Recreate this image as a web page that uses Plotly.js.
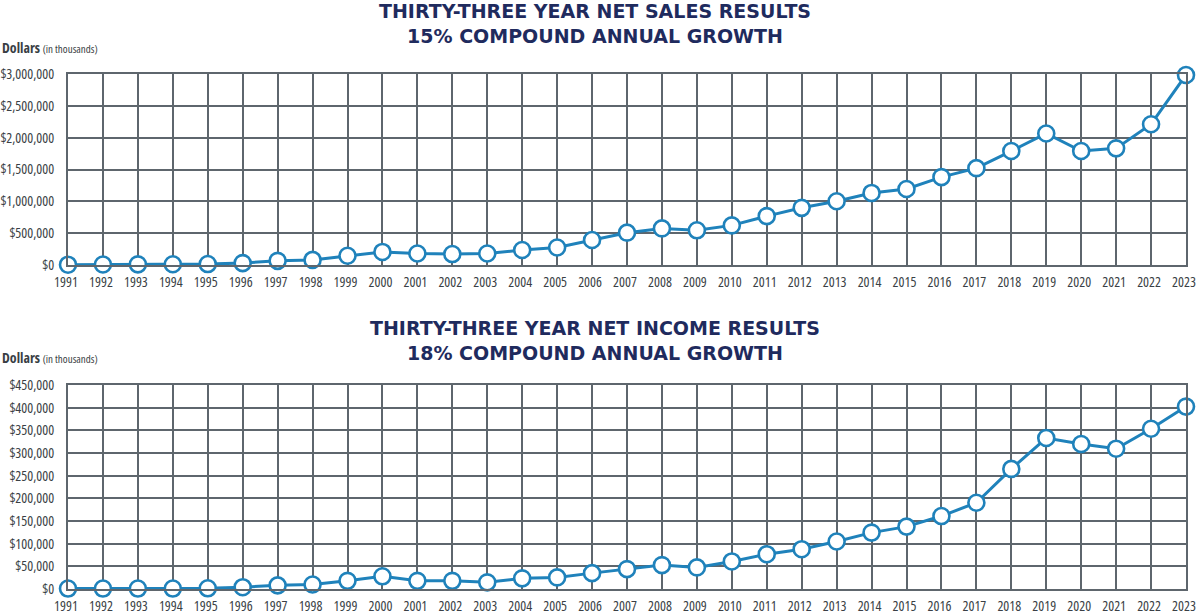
<!DOCTYPE html>
<html>
<head>
<meta charset="utf-8">
<script src="https://cdn.plot.ly/plotly-3.0.1.min.js"></script>
<style>
  html, body { margin: 0; padding: 0; background: #ffffff; }
  #chart { width: 1196px; height: 616px; }
  #chart .xtick text, #chart .ytick text,
  #chart .x2tick text, #chart .y2tick text,
  #chart .annotation.unit text { font-stretch: 75%; }
</style>
</head>
<body>
<div id="chart"></div>
<script>
// Years (categories)
const years = [1991,1992,1993,1994,1995,1996,1997,1998,1999,2000,2001,2002,2003,2004,2005,2006,2007,2008,2009,2010,2011,2012,2013,2014,2015,2016,2017,2018,2019,2020,2021,2022,2023];

// Net sales, dollars in thousands
const netSales = [5000,8000,10000,12000,15000,30000,65000,80000,145000,205000,180000,172000,180000,235000,275000,392000,508000,575000,545000,622000,768000,898000,1001000,1132000,1194000,1381000,1521000,1790000,2066000,1790000,1832000,2211000,2985000];

// Net income, dollars in thousands
const netIncome = [1000,1000,1000,1000,1500,4000,8000,10000,18000,28000,18000,18000,14700,23500,25600,35000,43900,52700,47600,60800,76800,87800,104700,124400,137600,160900,190300,264900,333000,319800,309500,353400,402400];

// Titles and labels
const salesTitle = "THIRTY-THREE YEAR NET SALES RESULTS<br>15% COMPOUND ANNUAL GROWTH";
const incomeTitle = "THIRTY-THREE YEAR NET INCOME RESULTS<br>18% COMPOUND ANNUAL GROWTH";
const unitLabel = "<b>Dollars</b> <span style='font-size:11px'>(in thousands)</span>";

const blue = "#1f82bb";
const gridCol = "#5e666d";
const narrowFam = "Open Sans, Roboto, Noto Sans, Liberation Sans, sans-serif";
const tickFont = { family: narrowFam, size: 14, color: "#3a3f45" };
const titleFont = { family: "DejaVu Sans, Liberation Sans, sans-serif", size: 19, color: "#1f2b5e", weight: 900 };

function seriesTrace(y, xa, ya) {
  return {
    type: "scatter", mode: "lines+markers",
    x: years, y: y, xaxis: xa, yaxis: ya,
    line: { color: blue, width: 3 },
    marker: { symbol: "circle", size: 16, color: "#ffffff", line: { color: blue, width: 2.6 } },
    cliponaxis: false, hoverinfo: "x+y", showlegend: false
  };
}

const data = [
  seriesTrace(netSales, "x", "y"),
  seriesTrace(netIncome, "x2", "y2")
];

const W = 1196, H = 616;
const L = 68, R = 10;
function fy(px) { return 1 - px / H; }

const xBase = {
  range: [1991, 2023], dtick: 1, tick0: 1991, tickangle: 0,
  showgrid: true, gridcolor: gridCol, gridwidth: 2,
  showline: true, linecolor: gridCol, linewidth: 2, mirror: true,
  zeroline: false, ticks: "", tickfont: tickFont, ticklabelstandoff: 3,
  ticklabelshift: -2, ticklabeloverflow: "allow", fixedrange: true
};
const yBase = {
  showgrid: true, gridcolor: gridCol, gridwidth: 2,
  showline: true, linecolor: gridCol, linewidth: 2, mirror: true,
  zeroline: false, ticks: "", tickfont: tickFont, tickprefix: "$",
  tickformat: ",.0f", ticklabelstandoff: 9, ticklabeloverflow: "allow", fixedrange: true
};

const layout = {
  width: W, height: H,
  margin: { l: L, r: R, t: 0, b: 0 },
  paper_bgcolor: "#ffffff", plot_bgcolor: "#ffffff",
  showlegend: false,
  xaxis: Object.assign({}, xBase, { anchor: "y", domain: [0, 1] }),
  yaxis: Object.assign({}, yBase, { anchor: "x", domain: [fy(265), fy(74)], range: [0, 3000000], dtick: 500000 }),
  xaxis2: Object.assign({}, xBase, { anchor: "y2", domain: [0, 1] }),
  yaxis2: Object.assign({}, yBase, { anchor: "x2", domain: [fy(589), fy(385)], range: [0, 450000], dtick: 50000 }),
  annotations: [
    { text: salesTitle, xref: "paper", yref: "paper", x: (595 - L) / (W - L - R), y: fy(23), xanchor: "center", yanchor: "middle", showarrow: false, font: titleFont },
    { text: incomeTitle, xref: "paper", yref: "paper", x: (595 - L) / (W - L - R), y: fy(340), xanchor: "center", yanchor: "middle", showarrow: false, font: titleFont },
    { text: unitLabel, xref: "paper", yref: "paper", x: -L / (W - L - R), y: fy(47), xanchor: "left", yanchor: "middle", align: "left", showarrow: false, font: { family: narrowFam, size: 14, color: "#3a3f45" } },
    { text: unitLabel, xref: "paper", yref: "paper", x: -L / (W - L - R), y: fy(357), xanchor: "left", yanchor: "middle", align: "left", showarrow: false, font: { family: narrowFam, size: 14, color: "#3a3f45" } }
  ]
};

Plotly.newPlot("chart", data, layout, { staticPlot: true, displayModeBar: false }).then(function () {
  // mark the unit annotations so the condensed stretch applies to them too
  const anns = document.querySelectorAll("#chart .annotation");
  [2, 3].forEach(function (i) { if (anns[i]) anns[i].classList.add("unit"); });
});
</script>
</body>
</html>
